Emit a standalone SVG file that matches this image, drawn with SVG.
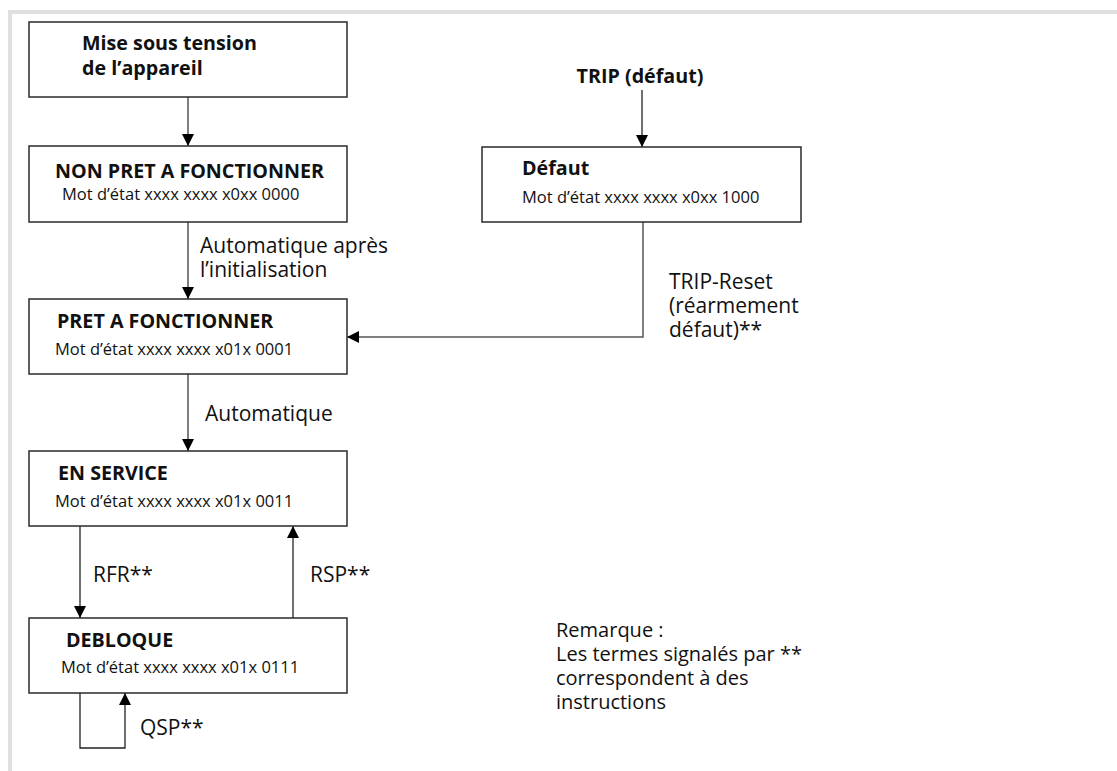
<svg xmlns="http://www.w3.org/2000/svg" width="1117" height="771" viewBox="0 0 1117 771">
<style>
.box{fill:#fff;stroke:#2a2a2a;stroke-width:1.5}
.ln{fill:none;stroke:#555;stroke-width:1.5}
.ln2{fill:none;stroke:#222;stroke-width:1.3}
.h{font-family:"Open Sans","Liberation Sans",sans-serif;font-weight:bold;font-size:19.7px;fill:#111}
.s{font-family:"Open Sans","Liberation Sans",sans-serif;font-size:16.5px;fill:#111}
.l{font-family:"Open Sans","Liberation Sans",sans-serif;font-size:21px;fill:#111}
.r{font-family:"Open Sans","Liberation Sans",sans-serif;font-size:20px;fill:#111}
</style>
<defs>
<marker id="ah" markerWidth="12" markerHeight="12" viewBox="0 0 12 12" refX="12" refY="6" orient="auto" markerUnits="userSpaceOnUse">
<path d="M0,0 L12,6 L0,12 Z" fill="#000"/>
</marker>
</defs>
<rect width="1117" height="771" fill="#fff"/>
<path d="M8,12 H1117 M10,10 V771" stroke="#e0e0e0" stroke-width="4" fill="none"/>

<g id="connectors">
<line class="ln" x1="188" y1="97" x2="188" y2="146" marker-end="url(#ah)"/>
<line class="ln" x1="188" y1="222" x2="188" y2="299" marker-end="url(#ah)"/>
<line class="ln" x1="188" y1="374" x2="188" y2="451" marker-end="url(#ah)"/>
<line class="ln2" x1="80" y1="526" x2="80" y2="618" marker-end="url(#ah)"/>
<line class="ln2" x1="293" y1="618" x2="293" y2="526" marker-end="url(#ah)"/>
<polyline class="ln2" points="80,693 80,748 125,748 125,693" marker-end="url(#ah)"/>
<line class="ln2" x1="642" y1="90" x2="642" y2="147" marker-end="url(#ah)"/>
<polyline class="ln" points="643,222 643,337 347,337" marker-end="url(#ah)"/>
<text class="l"><tspan x="200" y="253">Automatique après</tspan><tspan x="200" y="277">l’initialisation</tspan></text>
<text class="l" x="205" y="421">Automatique</text>
<text class="l" x="93" y="582">RFR**</text>
<text class="l" x="310" y="582">RSP**</text>
<text class="l" x="140" y="735">QSP**</text>
<text class="l"><tspan x="669" y="289">TRIP-Reset</tspan><tspan x="669" y="313">(réarmement</tspan><tspan x="669" y="337">défaut)**</tspan></text>
</g>

<g id="power">
<rect class="box" x="29" y="22" width="318" height="75"/>
<text class="h"><tspan x="82" y="50">Mise sous tension</tspan><tspan x="82" y="75">de l’appareil</tspan></text>
</g>
<g id="non-pret">
<rect class="box" x="29" y="146" width="318" height="76"/>
<text class="h" x="55" y="178">NON PRET A FONCTIONNER</text>
<text class="s" x="62" y="200">Mot d’état xxxx xxxx x0xx 0000</text>
</g>
<g id="pret">
<rect class="box" x="29" y="299" width="318" height="75"/>
<text class="h" x="57" y="328">PRET A FONCTIONNER</text>
<text class="s" x="55" y="355">Mot d’état xxxx xxxx x01x 0001</text>
</g>
<g id="en-service">
<rect class="box" x="29" y="451" width="318" height="75"/>
<text class="h" x="58" y="480">EN SERVICE</text>
<text class="s" x="55" y="507">Mot d’état xxxx xxxx x01x 0011</text>
</g>
<g id="debloque">
<rect class="box" x="29" y="618" width="318" height="75"/>
<text class="h" x="66" y="647">DEBLOQUE</text>
<text class="s" x="61" y="673">Mot d’état xxxx xxxx x01x 0111</text>
</g>
<g id="trip">
<text class="h" x="640" y="83" text-anchor="middle">TRIP (défaut)</text>
</g>
<g id="defaut">
<rect class="box" x="482" y="147" width="319" height="75"/>
<text class="h" x="522" y="175">Défaut</text>
<text class="s" x="522" y="203">Mot d’état xxxx xxxx x0xx 1000</text>
</g>
<g id="remarque">
<text class="r"><tspan x="556" y="637">Remarque :</tspan><tspan x="556" y="661">Les termes signalés par **</tspan><tspan x="556" y="685">correspondent à des</tspan><tspan x="556" y="709">instructions</tspan></text>
</g>
</svg>
